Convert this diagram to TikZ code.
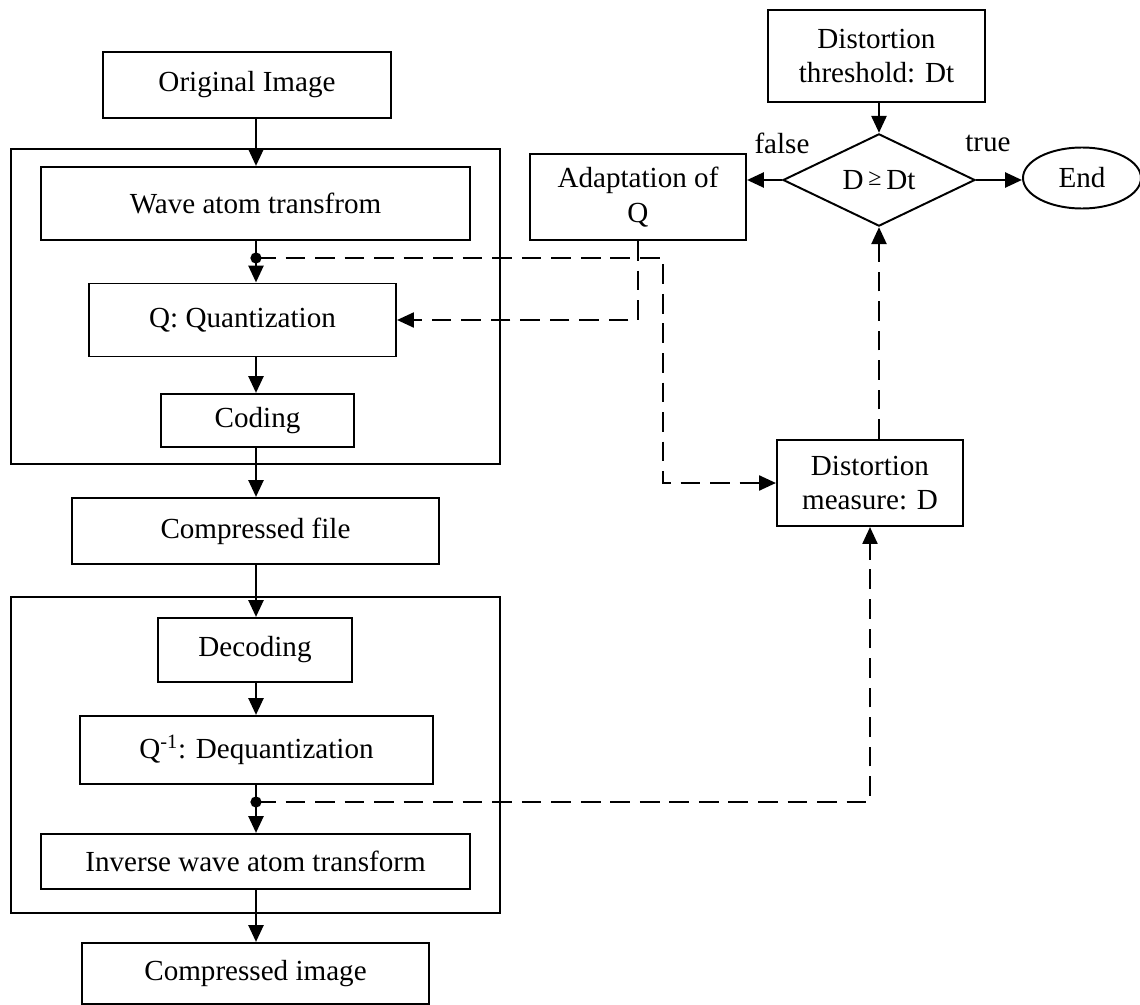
\documentclass[tikz,border=0pt]{standalone}
\usepackage{fontspec}
\setmainfont{Liberation Serif}
\usetikzlibrary{arrows.meta,shapes.geometric}

\tikzset{
  kasten/.style={draw, line width=1.4pt, inner sep=0pt, align=center},
  groesse/.style 2 args={minimum width=#1*0.025cm, minimum height=#2*0.025cm},
  spitze/.style={-{Triangle[length=12pt,width=10.5pt]}},
  pfeil/.style={line width=2.1pt, spitze},
  strich/.style={line width=1.9pt, dash pattern=on 14pt off 7pt},
  punkt/.style={circle, fill, inner sep=0pt, minimum size=8pt},
}

\begin{document}
\begin{tikzpicture}[x=0.025cm, y=-0.025cm, font=\fontsize{20.7}{24.5}\selectfont]
\useasboundingbox (0,0) rectangle (1140,1005);

% =========================================================
% Rahmen (Kodierer / Dekodierer)
% =========================================================
\node[kasten, groesse={489}{315}] (rahmenA) at (255.5,306.5) {};
\node[kasten, groesse={489}{316}] (rahmenB) at (255.5,755) {};

% =========================================================
% linke Spalte
% =========================================================
\node[kasten, groesse={288}{66}] (orig) at (247,85) {Original Image};
\node[kasten, groesse={429}{73}] (wave) at (255.5,203.5) {Wave atom transfrom};
\node[punkt] (pA) at (256,258) {};
\node[kasten, groesse={307}{73}] (quant) at (242.5,320) {Q: Quantization};
\node[kasten, groesse={193}{53}] (coding) at (257.5,420.5) {Coding};
\node[kasten, groesse={367}{66}] (cfile) at (255.5,531) {Compressed file};
\node[kasten, groesse={194}{64}] (decoding) at (255,650) {Decoding};
\node[kasten, groesse={353}{68}] (dequant) at (256.5,750) {Q\textsuperscript{-1}: Dequantization};
\node[punkt] (pB) at (256,802) {};
\node[kasten, groesse={429}{55}] (inverse) at (255.5,861.5) {Inverse wave atom transform};
\node[kasten, groesse={347}{61}] (cimage) at (255.5,973.5) {Compressed image};

% =========================================================
% rechte Seite: Schwelle, Entscheidung, Messung
% =========================================================
\node[kasten, groesse={217}{92}] (thresh) at (876.5,56) {Distortion\\threshold: Dt};
\node[kasten, shape=diamond, groesse={192}{76}] (entsch) at (879,180)
    {D\,\raisebox{3pt}{\fontsize{17}{17}\selectfont ≥}\,Dt};
\node[kasten, shape=ellipse, groesse={118}{61}] (ende) at (1082,178) {End};
\node[kasten, groesse={216}{86}] (adapt) at (638,197) {Adaptation of\\Q};
\node[kasten, groesse={186}{86}] (measure) at (870,483) {Distortion\\measure: D};

\node (lfalse) at (782,143) {false};
\node (ltrue) at (988,143) {true};

\coordinate (kA) at (663,258);

% =========================================================
% Pfeile
% =========================================================
\draw[pfeil] (orig.south -| pA) -- (wave.north -| pA);
\draw[pfeil] (wave.south -| pA) -- (quant.north -| pA);
\draw[pfeil] (quant.south -| pA) -- (coding.north -| pA);
\draw[pfeil] (coding.south -| pA) -- (cfile.north -| pA);
\draw[pfeil] (cfile.south -| pA) -- (decoding.north -| pA);
\draw[pfeil] (decoding.south -| pA) -- (dequant.north -| pA);
\draw[pfeil] (dequant.south -| pB) -- (inverse.north -| pB);
\draw[pfeil] (inverse.south -| pB) -- (cimage.north -| pB);

\draw[pfeil] (thresh.south -| entsch.north) -- (entsch.north);
\draw[pfeil] (entsch.west) -- (entsch.west -| adapt.east);
\draw[pfeil] (entsch.east) -- (entsch.east -| ende.west);

% gestrichelte Rueckkopplung
\draw[strich, spitze] (pA.center) -- (kA) |- (measure.west);
\draw[strich, spitze] (adapt.south) |- (quant.east);
\draw[strich, spitze] (pB.center) -| (measure.south);
\draw[strich, spitze] (measure.north -| entsch.south) -- (entsch.south);

\end{tikzpicture}
\end{document}
